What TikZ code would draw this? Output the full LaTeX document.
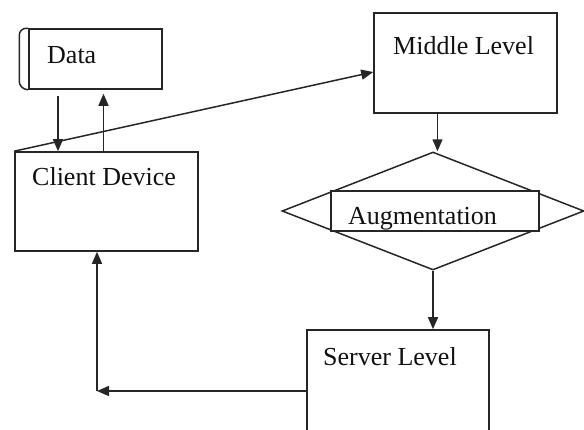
\documentclass[tikz,border=0pt]{standalone}
\usepackage{fontspec}
\setmainfont{Liberation Serif}
\usepackage{tikz}
\usetikzlibrary{arrows.meta,positioning,calc,shapes.geometric}
\definecolor{lineC}{HTML}{262626}
\definecolor{textC}{HTML}{111111}
\tikzset{
  >={Triangle[length=12pt,width=10pt]},
  levelBox/.style={draw=lineC,line width=1.6pt,fill=white,
                   minimum width=183pt,minimum height=100pt,inner sep=0pt},
  dataBox/.style={draw=lineC,line width=1.5pt,fill=white,
                  minimum width=133pt,minimum height=60pt,inner sep=0pt},
  augBox/.style={draw=lineC,line width=1.6pt,fill=white,
                 minimum width=208pt,minimum height=40pt,inner sep=0pt},
  decision/.style={diamond,draw=lineC,line width=1.5pt,inner sep=0pt,
                   minimum width=302pt,minimum height=118pt},
  boxText/.style={anchor=base west,inner sep=0pt,text=textC,
                  font=\fontsize{26}{30}\selectfont},
  flow/.style={->,line width=1.5pt,lineC},
}
\begin{document}
\begin{tikzpicture}[x=1pt,y=-1pt]
\useasboundingbox (0,0) rectangle (584,429);
\clip (0,0) rectangle (584,429);

% Data store with its rolled left edge
\node[dataBox] (data) at (95.5,59) {};
\draw[lineC,line width=1.5pt,rounded corners=7pt]
  (data.north west) -- ++(-9,0) -- ++(0,60) -- (data.south west);
\node[boxText] (dataText) at (47,63) {Data};

% Client, middle and server levels
\node[levelBox,minimum height=99pt] (client) at (106.5,201.5) {};
\node[boxText] (clientText) at (32,185) {Client Device};

\node[levelBox] (middle) at (465.5,63) {};
\node[boxText] (middleText) at (393,54) {Middle Level};

\node[levelBox,minimum width=182pt,minimum height=110pt] (server) at (398,385) {};
\node[boxText] (serverText) at (323,365) {Server Level};

% Augmentation step
\node[decision] (decide) at (433,211) {};
\node[augBox] (augm) at (435,211) {};
\node[boxText] (augmText) at (348,224) {Augmentation};

% Connectors
\draw[flow,shorten <=6pt] ([xshift=-37.5pt]data.south)
  -- ([xshift=-37.5pt]data.south |- client.north);
\draw[flow,shorten >=4pt] ([xshift=8pt]data.south |- client.north)
  -- ([xshift=8pt]data.south);
\draw[flow] (client.north west) -- ([yshift=-9pt]middle.west);
\draw[flow] ([xshift=-28pt]middle.south)
  -- ([xshift=-28pt]middle.south |- decide.north);
\draw[flow] (decide.south) -- (decide.south |- server.north);

\coordinate (bend) at (97,391);
\draw[flow] (server.west |- bend) -- (bend);
\draw[flow] (bend) -- (bend |- client.south);

\end{tikzpicture}
\end{document}
